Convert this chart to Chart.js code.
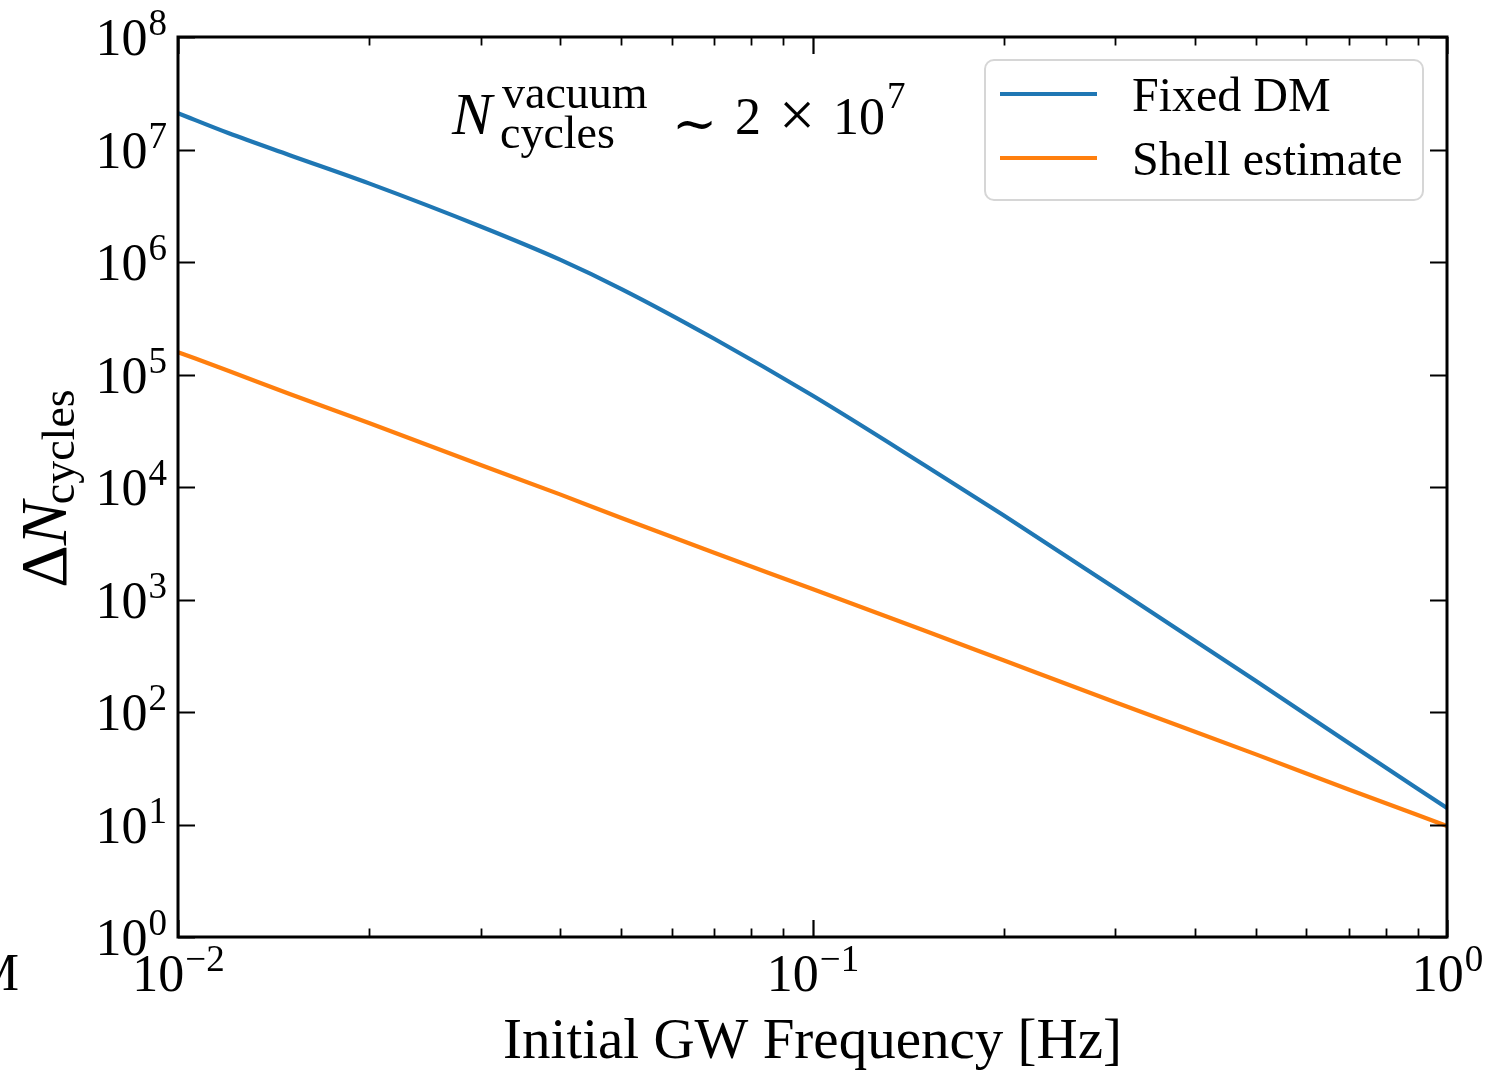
<!DOCTYPE html>
<html><head><meta charset="utf-8">
<script src="https://cdn.jsdelivr.net/npm/chart.js@4.4.0/dist/chart.umd.min.js"></script>
<style>html,body{margin:0;padding:0;background:#fff;} canvas{display:block;}</style>
</head><body>
<canvas id="c" width="1506" height="1070"></canvas>
<script>
// ---- data ----
const frequencies   = [0.01, 0.012, 0.015, 0.02, 0.03, 0.04, 0.05, 0.07, 0.1, 0.15, 0.2, 0.3, 0.5, 0.7, 1.0];
const fixedDM       = [2.1e7, 1.4e7, 8.9e6, 5.0e6, 2.07e6, 1.05e6, 5.75e5, 2.08e5, 6.5e4, 1.57e4, 5.6e3, 1.26e3, 189, 53, 14];
const shellEstimate = [1.58e5, 1.08e5, 6.7e4, 3.7e4, 1.57e4, 8.6e3, 5.3e3, 2.6e3, 1.24e3, 530, 288, 122, 42, 20.5, 9.7];
const seriesLabels  = ['Fixed DM', 'Shell estimate'];
const seriesColors  = ['#1f77b4', '#ff7f0e'];
const xTickExponents = ['−2', '−1', '0'];
const yTickExponents = ['0','1','2','3','4','5','6','7','8'];
const xTitle = 'Initial GW Frequency [Hz]';
const yTitleMain = ['Δ', 'N'];
const yTitleSub = 'cycles';
const noteMain = 'N', noteSup = 'vacuum', noteSub = 'cycles', noteValue = ['~', '2', '×', '10', '7'];

const SERIF = '"Liberation Serif", "DejaVu Serif", serif';

function buildLogTicks(minExp, maxExp, withMinor) {
  const t = [];
  for (let e = minExp; e < maxExp; e++) {
    for (let m = 1; m <= 9; m++) {
      if (m > 1 && !withMinor) continue;
      t.push({ value: m * Math.pow(10, e), major: m === 1 });
    }
  }
  t.push({ value: Math.pow(10, maxExp), major: true });
  return t;
}

function drawPow(ctx, base, exp, x, y, align, bs, es, raise) {
  ctx.font = bs + 'px ' + SERIF;
  const bw = ctx.measureText(base).width;
  ctx.font = es + 'px ' + SERIF;
  const ew = ctx.measureText(exp).width;
  const total = bw + ew;
  let x0 = x;
  if (align === 'center') x0 = x - total / 2;
  else if (align === 'right') x0 = x - total;
  ctx.textAlign = 'left';
  ctx.textBaseline = 'alphabetic';
  ctx.font = bs + 'px ' + SERIF;
  ctx.fillText(base, x0, y);
  ctx.font = es + 'px ' + SERIF;
  ctx.fillText(exp, x0 + bw + 1, y - raise);
}

const decorPlugin = {
  id: 'decor',
  afterDraw(chart) {
    const ctx = chart.ctx;
    const a = chart.chartArea;
    const xs = chart.scales.x, ys = chart.scales.y;
    ctx.save();
    ctx.fillStyle = '#000';
    ctx.strokeStyle = '#000';

    // x ticks (bottom & top, inward)
    xs.ticks.forEach(t => {
      const px = Math.round(xs.getPixelForValue(t.value)) + 0.5;
      const len = t.major ? 17 : 8.5;
      ctx.lineWidth = t.major ? 2.2 : 1.8;
      ctx.beginPath();
      ctx.moveTo(px, a.bottom); ctx.lineTo(px, a.bottom - len);
      ctx.moveTo(px, a.top); ctx.lineTo(px, a.top + len);
      ctx.stroke();
    });
    // y ticks (left & right, inward)
    ys.ticks.forEach(t => {
      const py = Math.round(ys.getPixelForValue(t.value)) + 0.5;
      ctx.lineWidth = 2.2;
      ctx.beginPath();
      ctx.moveTo(a.left, py); ctx.lineTo(a.left + 17, py);
      ctx.moveTo(a.right, py); ctx.lineTo(a.right - 17, py);
      ctx.stroke();
    });
    // frame
    ctx.lineWidth = 3;
    ctx.strokeRect(a.left, a.top, a.right - a.left, a.bottom - a.top);

    // tick labels
    const xMajor = xs.ticks.filter(t => t.major);
    xMajor.forEach((t, i) => {
      drawPow(ctx, '10', xTickExponents[i], xs.getPixelForValue(t.value), a.bottom + 54, 'center', 52, 37, 20);
    });
    ys.ticks.forEach((t, i) => {
      drawPow(ctx, '10', yTickExponents[i], 166, ys.getPixelForValue(t.value) + 18, 'right', 52, 37, 20);
    });

    // x title
    ctx.font = '57px ' + SERIF;
    ctx.textAlign = 'center';
    ctx.textBaseline = 'alphabetic';
    ctx.fillText(xTitle, (a.left + a.right) / 2, 1058);

    // y title (rotated)
    ctx.save();
    const mainF = '66px ' + SERIF, subF = '46px ' + SERIF;
    ctx.font = mainF;
    const wD = ctx.measureText(yTitleMain[0]).width;
    ctx.font = 'italic ' + mainF;
    const wN = ctx.measureText(yTitleMain[1]).width;
    ctx.font = subF;
    const wS = ctx.measureText(yTitleSub).width;
    const total = wD + wN + wS;
    ctx.translate(66, 487 + total / 2);
    ctx.rotate(-Math.PI / 2);
    ctx.textAlign = 'left';
    ctx.font = mainF; ctx.fillText(yTitleMain[0], 0, 0);
    ctx.font = 'italic ' + mainF; ctx.fillText(yTitleMain[1], wD, 0);
    ctx.font = subF; ctx.fillText(yTitleSub, wD + wN - 3, 8);
    ctx.restore();

    // annotation
    ctx.textAlign = 'left';
    ctx.font = 'italic 60px ' + SERIF;
    ctx.fillText(noteMain, 452, 134);
    ctx.font = '46px ' + SERIF;
    ctx.fillText(noteSup, 502, 108);
    ctx.fillText(noteSub, 500, 148);
    ctx.font = '54px "DejaVu Serif", serif';
    ctx.fillText(noteValue[0], 672, 142);
    ctx.font = '52px ' + SERIF;
    ctx.fillText(noteValue[1], 735, 134);
    ctx.font = '64px ' + SERIF;
    ctx.fillText(noteValue[2], 779, 136);
    ctx.font = '52px ' + SERIF;
    ctx.fillText(noteValue[3], 833, 134);
    const w10 = ctx.measureText(noteValue[3]).width;
    ctx.font = '37px ' + SERIF;
    ctx.fillText(noteValue[4], 833 + w10 + 2, 108);

    // legend
    const lx = 985, ly = 60, lw = 438, lh = 140, r = 9;
    ctx.beginPath();
    ctx.roundRect(lx, ly, lw, lh, r);
    ctx.fillStyle = 'rgba(255,255,255,0.85)';
    ctx.fill();
    ctx.lineWidth = 2;
    ctx.strokeStyle = '#d6d6d6';
    ctx.stroke();
    chart.data.datasets.forEach((ds, i) => {
      const yy = 94 + i * 64;
      ctx.strokeStyle = ds.borderColor;
      ctx.lineWidth = 4;
      ctx.beginPath();
      ctx.moveTo(1000, yy); ctx.lineTo(1097, yy);
      ctx.stroke();
      ctx.fillStyle = '#000';
      ctx.font = '48px ' + SERIF;
      ctx.textAlign = 'left';
      ctx.fillText(ds.label, 1132, yy + 17);
    });

    // clipped leftover glyph at the left edge
    ctx.fillStyle = '#000';
    ctx.font = '52px ' + SERIF;
    ctx.textAlign = 'right';
    ctx.fillText('M', 19, 990);
    ctx.restore();
  }
};

new Chart(document.getElementById('c'), {
  type: 'line',
  data: {
    datasets: [
      { label: seriesLabels[0], data: frequencies.map((f, i) => ({ x: f, y: fixedDM[i] })),
        borderColor: seriesColors[0], borderWidth: 4.2, pointRadius: 0, cubicInterpolationMode: 'monotone', fill: false },
      { label: seriesLabels[1], data: frequencies.map((f, i) => ({ x: f, y: shellEstimate[i] })),
        borderColor: seriesColors[1], borderWidth: 4.2, pointRadius: 0, cubicInterpolationMode: 'monotone', fill: false }
    ]
  },
  options: {
    responsive: false,
    animation: false,
    devicePixelRatio: 1,
    layout: { padding: { top: 37, right: 59, left: 0, bottom: 0 } },
    plugins: { legend: { display: false }, tooltip: { enabled: false } },
    scales: {
      x: {
        type: 'logarithmic', min: 0.01, max: 1,
        ticks: { display: false }, grid: { display: false }, border: { display: false },
        afterBuildTicks: s => { s.ticks = buildLogTicks(-2, 0, true); },
        afterFit: s => { s.height = 133; }
      },
      y: {
        type: 'logarithmic', min: 1, max: 1e8,
        ticks: { display: false }, grid: { display: false }, border: { display: false },
        afterBuildTicks: s => { s.ticks = buildLogTicks(0, 8, false); },
        afterFit: s => { s.width = 178; }
      }
    }
  },
  plugins: [decorPlugin]
});
</script>
</body></html>
